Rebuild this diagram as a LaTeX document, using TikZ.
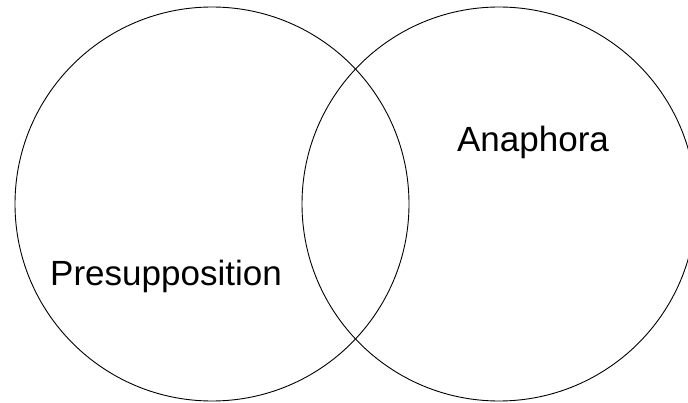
\documentclass[tikz,border=0pt]{standalone}
\usepackage{fontspec}
\setmainfont{Liberation Sans}
\usepackage{tikz}

\begin{document}
\begin{tikzpicture}[x=1pt,y=1pt]

% parameters
\def\rad{197}
\def\lx{212}
\def\ly{198}
\def\rx{499}
\def\ry{198}

% page frame
\useasboundingbox (0,0) rectangle (688,402);

% the two sets
\draw[line width=0.9pt] (\lx,\ly) circle (\rad);
\draw[line width=0.9pt] (\rx,\ry) circle (\rad);

% set labels
\node[anchor=base,font=\fontsize{35}{42}\selectfont] (presup) at (166,117) {Presupposition};
\node[anchor=base,font=\fontsize{35}{42}\selectfont] (anaph) at (533,250) {Anaphora};

\end{tikzpicture}
\end{document}
